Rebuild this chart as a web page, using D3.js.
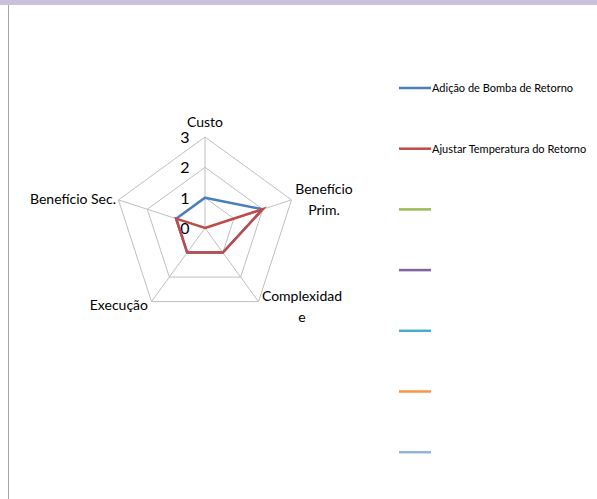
<!DOCTYPE html>
<html>
<head>
<meta charset="utf-8">
<script src="https://cdn.jsdelivr.net/npm/d3@7"></script>
<style>
  body { margin: 0; background: #fff; }
  text { font-family: Lato, "Open Sans", sans-serif; fill: #000; }
</style>
</head>
<body>
<div id="content"></div>
<script>
// categories (axes) and series values
var axes = ["Custo", "Benefício Prim.", "Complexidade", "Execução", "Benefício Sec."];
var axisLabels = [["Custo"], ["Benefício", "Prim."], ["Complexidad", "e"], ["Execução"], ["Benefício Sec."]];
var seriesNames = ["Adição de Bomba de Retorno", "Ajustar Temperatura do Retorno", "", "", "", "", ""];
var bomba = [1, 2, 1, 1, 1];
var ajustar = [0, 2, 1, 1, 1];
var tickValues = [0, 1, 2, 3];
var colors = ["#4a7ebb", "#be4b48", "#9bbb59", "#8064a2", "#4bacc6", "#f79646", "#95b3d7"];

var width = 597, height = 499;
var cx = 205, cy = 228, radius = 91;

var svg = d3.select("#content").append("svg")
  .attr("width", width)
  .attr("height", height);

// top band and left border
svg.append("rect").attr("x", 0).attr("y", 0).attr("width", width).attr("height", 5).attr("fill", "#ccc1da");
svg.append("line").attr("x1", 8.5).attr("y1", 5).attr("x2", 8.5).attr("y2", height)
  .attr("stroke", "#a6a6a6").attr("stroke-width", 1);

var r = d3.scaleLinear().domain([0, 3]).range([0, radius]);
var angle = function(i) { return i * 2 * Math.PI / axes.length; };
var pt = function(i, v) {
  return [cx + r(v) * Math.sin(angle(i)), cy - r(v) * Math.cos(angle(i))];
};

var g = svg.append("g");

// grid pentagons
tickValues.slice(1).forEach(function(t) {
  g.append("polygon")
    .attr("points", axes.map(function(a, i) { return pt(i, t).join(","); }).join(" "))
    .attr("fill", "none").attr("stroke", "#bfbfbf").attr("stroke-width", 1);
});
// spokes
axes.forEach(function(a, i) {
  var p = pt(i, 3);
  g.append("line").attr("x1", cx).attr("y1", cy).attr("x2", p[0]).attr("y2", p[1])
    .attr("stroke", "#bfbfbf").attr("stroke-width", 1);
});

// tick labels
tickValues.forEach(function(t) {
  g.append("text").attr("x", cx - 20).attr("y", cy - r(t) + 6)
    .attr("text-anchor", "middle").attr("font-size", 16).text(t);
});

// axis labels
var labelPos = [
  {x: 205, y: 127, anchor: "middle"},
  {x: 324, y: 194, anchor: "middle"},
  {x: 302, y: 301, anchor: "middle"},
  {x: 148, y: 310, anchor: "end"},
  {x: 116, y: 204, anchor: "end"}
];
axisLabels.forEach(function(lines, i) {
  var t = g.append("text").attr("x", labelPos[i].x).attr("y", labelPos[i].y)
    .attr("text-anchor", labelPos[i].anchor).attr("font-size", 14);
  lines.forEach(function(s, j) {
    t.append("tspan").attr("x", labelPos[i].x).attr("dy", j === 0 ? 0 : 21).text(s);
  });
});

// series
var line = d3.line().curve(d3.curveLinearClosed)
  .x(function(d) { return pt(d.i, d.v)[0]; })
  .y(function(d) { return pt(d.i, d.v)[1]; });

[bomba, ajustar].forEach(function(vals, k) {
  g.append("path")
    .datum(vals.map(function(v, i) { return {i: i, v: v}; }))
    .attr("d", line)
    .attr("fill", "none")
    .attr("stroke", colors[k])
    .attr("stroke-width", 2.5)
    .attr("stroke-linejoin", "miter");
});

// legend
var legend = svg.append("g");
seriesNames.forEach(function(name, k) {
  var y = 88 + k * 60.7;
  legend.append("line").attr("x1", 399).attr("x2", 431).attr("y1", y).attr("y2", y)
    .attr("stroke", colors[k]).attr("stroke-width", 2.5);
  legend.append("text").attr("x", 432).attr("y", y + 4)
    .attr("font-size", 11).text(name);
});
</script>
</body>
</html>
